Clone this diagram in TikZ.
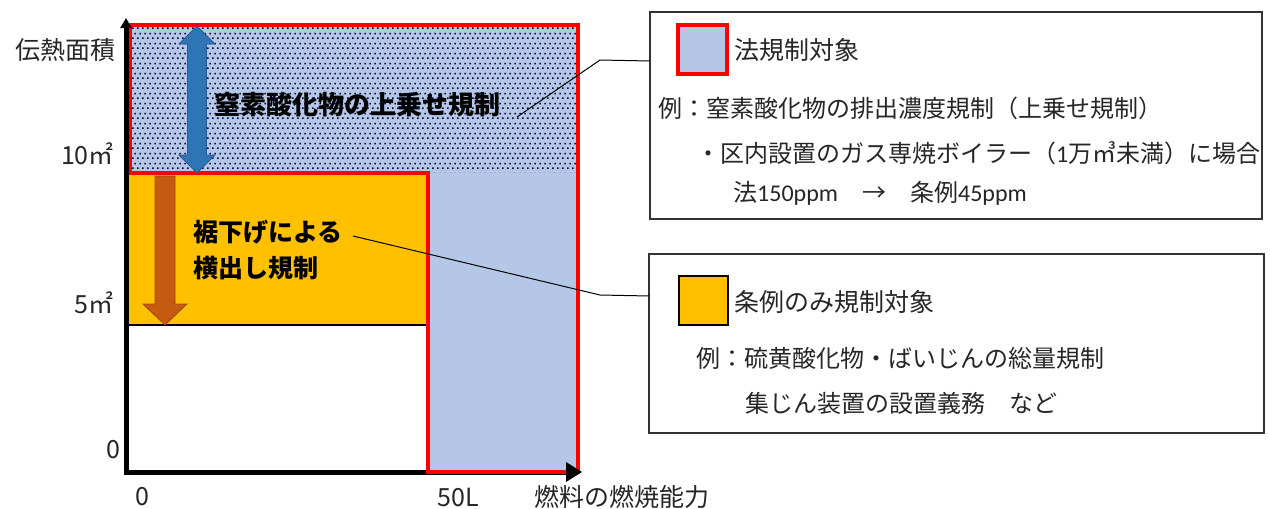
\documentclass[tikz,border=0pt]{standalone}
\usepackage{fontspec}
\setmainfont{Noto Sans CJK JP}
\newfontfamily\latinnum{Carlito}
\usetikzlibrary{patterns,arrows.meta}
\definecolor{lblue}{HTML}{B4C7E7}
\definecolor{orng}{HTML}{FFC000}
\definecolor{rred}{HTML}{FF0000}
\definecolor{barrow}{HTML}{2E75B6}
\definecolor{barrowd}{HTML}{2F5597}
\definecolor{brarrow}{HTML}{C55A11}
\definecolor{brarrowd}{HTML}{9E480E}
\definecolor{txt}{HTML}{262626}
\pgfdeclarepatternformonly{stagdots}{\pgfpointorigin}{\pgfpoint{5.3pt}{10pt}}{\pgfpoint{5.3pt}{10pt}}{%
  \pgfpathrectangle{\pgfpoint{0pt}{0pt}}{\pgfpoint{1.7pt}{1.7pt}}%
  \pgfpathrectangle{\pgfpoint{2.65pt}{5pt}}{\pgfpoint{1.7pt}{1.7pt}}%
  \pgfusepath{fill}}
\begin{document}
\begin{tikzpicture}[x=1pt,y=-1pt,
  lbl/.style={inner sep=0pt,text=txt,font=\fontsize{24}{28}\selectfont},
  axlbl/.style={inner sep=0pt,text=txt,font=\fontsize{25}{29}\selectfont},
  boldlbl/.style={inner sep=0pt,text=black,font=\fontsize{25}{29}\selectfont\bfseries},
  legbox/.style={draw=black!80,line width=1.2pt,fill=white},
  leader/.style={draw=black,line width=1pt}]
\useasboundingbox (0,0) rectangle (1270,509);
% regions
\fill[lblue] (128,25) rectangle (578,173);
\fill[pattern=stagdots,pattern color=black!80!blue] (128,25) rectangle (578,173);
\fill[orng] (128,173) rectangle (428,325);
\fill[lblue] (428,173) rectangle (578,472);
\draw[line width=2pt] (128,325) -- (428,325);
% x axis
\draw[line width=5pt] (124,472) -- (570,472);
% red outline
\draw[rred,line width=4.5pt,line join=miter] (130,25) -- (578,25) -- (578,472) -- (428,472) -- (428,173) -- (130,173) -- cycle;
% x axis tip
\fill[black] (566,462) -- (582,472) -- (566,482) -- cycle;
% y axis
\draw[line width=5pt,-{Triangle[length=10pt,width=11pt]}] (126,474.5) -- (126,18);
% block arrows
\draw[barrowd,fill=barrow,line width=0.8pt] (197,26) -- (215,44) -- (206.5,44) -- (206.5,155) -- (215,155) -- (197,173) -- (179,155) -- (187.5,155) -- (187.5,44) -- (179,44) -- cycle;
\draw[brarrowd,fill=brarrow,line width=0.8pt] (155,176) -- (175,176) -- (175,304) -- (187,304) -- (165,325) -- (143,304) -- (155,304) -- cycle;
% chart labels
\node[boldlbl,font=\fontsize{26}{30}\selectfont\bfseries] (nox) at (357,105) {窒素酸化物の上乗せ規制};
\node[boldlbl,anchor=west] (suso1) at (193,232) {裾下げによる};
\node[boldlbl,anchor=west] (suso2) at (193,268) {横出し規制};
\node[axlbl,anchor=east] (yl) at (116,50) {伝熱面積};
\node[axlbl,anchor=east] (y10) at (114,154) {10㎡};
\node[axlbl,anchor=east] (y5) at (114,303) {5㎡};
\node[axlbl,anchor=east] (y0) at (121,450) {0};
\node[axlbl] (x0) at (142,497) {0};
\node[axlbl] (x50) at (458,497) {50L};
\node[axlbl,anchor=west] (xl) at (534,497) {燃料の燃焼能力};
% legend box 1
\draw[legbox] (650,12) rectangle (1262,219);
\node[draw=rred,line width=4.5pt,fill=lblue,minimum width=49pt,minimum height=49pt,inner sep=0pt] (sq1) at (702.5,49.5) {};
\node[axlbl,anchor=west] (t1) at (734,50) {法規制対象};
\node[lbl,anchor=west] (t2) at (658,108) {例：窒素酸化物の排出濃度規制（上乗せ規制）};
\node[lbl,anchor=west] (t3) at (696,153) {・区内設置のガス専焼ボイラー（{\latinnum 1}万㎥未満）に場合};
\node[lbl,anchor=west] (t4) at (733,193) {法{\latinnum 150ppm}　→　条例{\latinnum 45ppm}};
% legend box 2
\draw[legbox] (649,254) rectangle (1264,433);
\node[draw=black,line width=2pt,fill=orng,minimum width=49pt,minimum height=49pt,inner sep=0pt] (sq2) at (703,300) {};
\node[axlbl,anchor=west] (u1) at (734,302) {条例のみ規制対象};
\node[lbl,anchor=west] (u2) at (696,358) {例：硫黄酸化物・ばいじんの総量規制};
\node[lbl,anchor=west] (u3) at (745,403) {集じん装置の設置義務　など};
% leaders
\coordinate (a1) at (517,117);
\coordinate (b1) at (600,60);
\coordinate (c1) at (650,61);
\draw[leader] (a1) -- (b1) -- (c1);
\coordinate (a2) at (353,236);
\coordinate (b2) at (600,295);
\coordinate (c2) at (649,296);
\draw[leader] (a2) -- (b2) -- (c2);
\end{tikzpicture}
\end{document}
